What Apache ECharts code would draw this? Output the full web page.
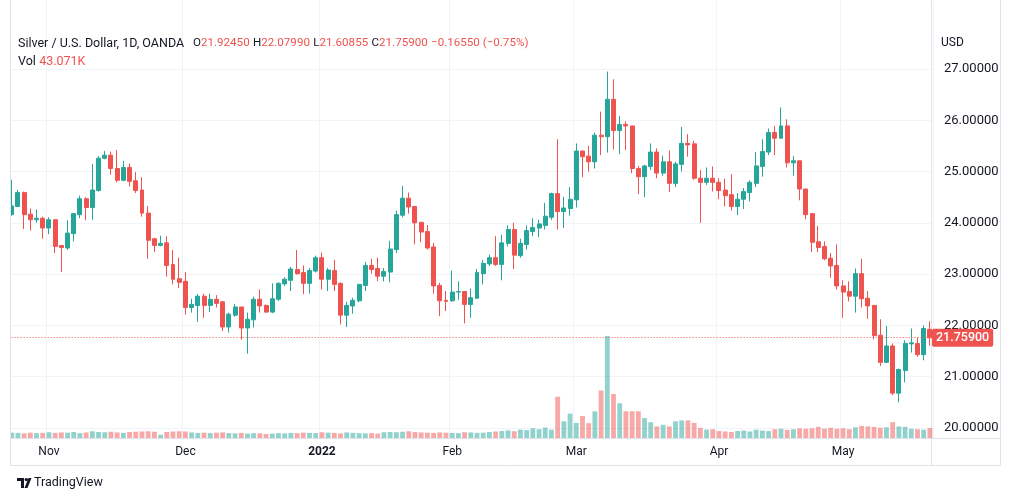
<!DOCTYPE html>
<html><head><meta charset="utf-8">
<script src="https://cdn.jsdelivr.net/npm/echarts@6/dist/echarts.min.js"></script>
<style>html,body{margin:0;padding:0;background:#fff}#c{width:1012px;height:501px}</style>
</head><body><div id="c"></div>
<script>
// ---- trading calendar (categories) ----
const startDay = '2021-10-22';
const endDay = '2022-05-20';
const holidays = ['2021-12-24', '2022-04-15'];
const monthNames = {'2021-11':'Nov','2021-12':'Dec','2022-01':'2022','2022-02':'Feb','2022-03':'Mar','2022-04':'Apr','2022-05':'May'};
const priceTicks = [20, 21, 22, 23, 24, 25, 26, 27];

// ---- OHLC values ----
const opens = [24.16,24.32,24.59,24.17,24.06,24.09,23.90,24.06,23.56,23.51,23.79,24.16,24.47,24.30,24.63,25.26,25.32,25.06,24.83,25.08,24.82,24.64,24.19,23.69,23.56,23.61,23.19,22.91,22.86,22.35,
22.39,22.57,22.39,22.51,22.46,21.97,22.20,22.36,21.95,22.11,22.51,22.39,22.26,22.51,22.81,22.88,23.09,23.03,22.82,23.06,23.32,22.90,23.07,22.82,22.20,22.38,22.48,22.78,23.17,23.11,
22.96,23.04,23.48,24.15,24.48,24.32,24.01,23.83,23.53,22.78,22.49,22.48,22.65,22.66,22.41,22.53,23.01,23.20,23.32,23.19,23.60,23.87,23.36,23.58,23.83,23.90,23.95,24.11,24.57,24.22,
24.28,24.45,25.40,25.30,25.19,25.71,25.68,26.41,25.80,25.92,25.89,25.06,24.90,25.10,25.38,24.97,25.19,24.77,25.14,25.55,25.54,24.87,24.79,24.87,24.79,24.64,24.55,24.32,24.46,24.59,
24.77,25.10,25.38,25.76,25.65,25.89,25.17,25.21,24.66,24.18,23.63,23.54,23.31,23.17,22.77,22.66,22.57,23.01,22.53,22.39,21.81,21.28,21.60,20.68,21.12,21.64,21.65,21.43,21.9245];
const highs = [24.84,24.64,24.61,24.28,24.26,24.12,24.11,24.07,23.56,24.05,24.18,24.53,24.50,25.15,25.30,25.40,25.39,25.42,25.21,25.16,24.99,24.89,24.33,23.71,23.75,23.74,23.47,23.32,23.04,22.52,
22.61,22.62,22.62,22.59,22.48,22.25,22.42,22.36,22.25,22.56,22.70,22.41,22.82,22.84,22.94,23.14,23.47,23.17,23.12,23.36,23.42,23.12,23.28,22.84,22.46,22.54,22.81,23.24,23.30,23.32,
23.12,23.65,24.24,24.72,24.59,24.32,24.01,23.96,23.61,22.83,22.67,23.07,22.86,22.67,22.72,23.10,23.28,23.38,23.74,23.77,23.95,24.00,23.69,23.95,24.09,24.06,24.39,24.59,25.63,24.51,
24.70,25.55,25.41,25.50,25.76,26.17,26.95,26.80,26.08,25.98,25.89,25.11,25.13,25.55,25.45,25.31,25.41,25.19,25.87,25.73,25.60,25.03,25.08,25.10,24.87,24.86,24.95,24.58,24.68,24.83,
25.38,25.63,25.84,25.89,26.25,26.02,25.30,25.21,24.66,24.18,23.94,23.64,23.41,23.58,22.88,22.86,23.11,23.30,22.67,22.39,22.12,21.99,21.65,21.16,21.71,21.94,21.76,22.00,22.0799];
const lows = [24.14,24.31,23.88,23.85,24.00,23.69,23.78,23.41,23.04,23.47,23.64,24.09,24.05,24.06,24.61,25.24,24.94,24.79,24.81,24.71,24.58,24.12,23.30,23.43,23.54,22.95,22.80,22.73,22.21,22.25,
22.07,22.15,22.26,22.35,21.89,21.86,22.17,21.72,21.45,21.96,22.25,22.24,22.24,22.48,22.77,22.67,22.99,22.61,22.62,23.03,22.70,22.67,22.67,22.02,21.97,22.23,22.45,22.67,23.01,22.86,
22.86,22.84,23.41,24.11,24.18,23.58,23.62,23.48,22.62,22.18,22.28,22.46,22.50,22.04,22.15,22.52,22.80,23.16,23.16,22.88,23.54,23.10,23.32,23.48,23.74,23.72,23.87,24.06,23.87,23.90,
24.14,24.30,24.89,25.00,25.06,25.32,25.37,25.43,25.34,25.42,24.97,24.56,24.50,25.03,24.87,24.92,24.60,24.70,25.00,25.29,24.84,24.00,24.74,24.61,24.46,24.32,24.24,24.15,24.27,24.42,
24.70,24.90,25.32,25.32,25.65,25.08,24.92,24.44,24.07,23.43,23.43,23.27,22.93,22.70,22.15,22.47,22.25,22.35,22.13,21.73,21.21,21.28,20.64,20.50,20.89,21.47,21.39,21.32,21.60855];
const closes = [24.33,24.59,24.16,24.06,24.09,23.90,24.06,23.54,23.52,23.80,24.18,24.47,24.30,24.64,25.26,25.32,25.06,24.83,25.08,24.81,24.63,24.19,23.66,23.56,23.60,23.17,22.90,22.84,22.35,22.41,
22.57,22.39,22.51,22.43,21.97,22.22,22.36,21.95,22.12,22.51,22.38,22.26,22.52,22.82,22.90,23.10,23.01,22.82,23.07,23.32,22.90,23.08,22.80,22.20,22.39,22.49,22.80,23.17,23.09,22.96,
23.05,23.49,24.16,24.48,24.31,24.00,23.82,23.51,22.77,22.48,22.47,22.65,22.66,22.41,22.54,23.03,23.21,23.32,23.19,23.61,23.87,23.37,23.60,23.85,23.91,23.98,24.13,24.57,24.22,24.29,
24.46,25.40,25.29,25.19,25.71,25.68,26.41,25.80,25.92,25.89,25.06,24.90,25.11,25.38,24.97,25.19,24.77,25.15,25.55,25.52,24.87,24.79,24.87,24.79,24.63,24.53,24.32,24.46,24.61,24.79,
25.11,25.39,25.76,25.65,25.89,25.17,25.21,24.66,24.16,23.62,23.52,23.30,23.16,22.77,22.65,22.57,23.01,22.52,22.38,21.80,21.28,21.60,20.68,21.14,21.65,21.66,21.43,21.94,21.759];
// tick volume in thousands
const volumes = [23,22,20,23,21,22,25,22,24,23,26,21,24,29,26,25,27,24,22,26,27,28,29,27,14,26,28,29,
28,24,22,23,21,23,24,21,20,22,19,21,20,17,19,21,20,22,21,23,22,21,25,
23,22,20,24,22,21,20,21,19,25,26,25,27,29,26,24,23,22,24,23,
22,21,25,24,22,23,26,28,30,33,29,36,34,42,38,45,36,178,72,105,
65,95,64,115,205,440,190,150,115,115,115,86,68,50,57,50,72,76,76,65,
44,36,38,30,28,26,30,32,28,36,32,30,38,40,35,38,42,40,42,48,
40,44,40,42,38,46,52,50,48,44,46,68,50,48,40,38,36,43.071];

// ---- build calendar ----
const dates = [];
for (let d = new Date(startDay + 'T00:00:00Z'); d <= new Date(endDay + 'T00:00:00Z'); d.setUTCDate(d.getUTCDate() + 1)) {
  const wd = d.getUTCDay();
  const s = d.toISOString().slice(0, 10);
  if (wd === 0 || wd === 6 || holidays.includes(s)) continue;
  dates.push(s);
}
const monthStart = new Set();
for (let i = 1; i < dates.length; i++) {
  const m = dates[i].slice(0, 7);
  if (monthNames[m] && dates[i - 1].slice(0, 7) !== m) monthStart.add(i);
}

const UP = '#26a69a', DOWN = '#ef5350';
const candleData = opens.map((o, i) => [o, closes[i], lows[i], highs[i]]);
const volData = volumes.map((v, i) => ({
  value: v,
  itemStyle: { color: closes[i] >= opens[i] ? 'rgba(38,166,154,0.5)' : 'rgba(239,83,80,0.5)' }
}));
const n = closes.length;
const lastClose = closes[n - 1];
const FONT = 'Roboto, sans-serif';
const TXT = '#131722';
const AX = '#e0e3eb';

const chart = echarts.init(document.getElementById('c'), null, { renderer: 'canvas' });
chart.setOption({
  animation: false,
  backgroundColor: '#ffffff',
  grid: { left: 8.6, right: 79, top: 1, bottom: 63, containLabel: false },
  xAxis: {
    type: 'category', data: dates, boundaryGap: true,
    axisLine: { show: false },
    axisTick: { show: false },
    axisLabel: {
      interval: (idx) => monthStart.has(idx),
      formatter: (v) => { const m = monthNames[v.slice(0, 7)]; return m === '2022' ? '{y|2022}' : m; },
      color: TXT, fontFamily: FONT, fontSize: 12, margin: 8,
      rich: { y: { fontWeight: 'bold', fontFamily: FONT, fontSize: 12, color: TXT } }
    },
    splitLine: { show: true, interval: (idx) => monthStart.has(idx), lineStyle: { color: '#f0f3fa', width: 1 } }
  },
  yAxis: [{
    type: 'value', position: 'right', scale: true,
    min: 20 - 10 / 51.29, max: 27 + 68 / 51.29,
    axisLine: { show: false }, axisTick: { show: false, customValues: priceTicks },
    axisLabel: { customValues: priceTicks, formatter: (v) => v.toFixed(5), color: TXT, fontFamily: FONT, fontSize: 13, margin: 11 },
    splitLine: { show: true, lineStyle: { color: '#f0f3fa', width: 1 } }
  }, {
    type: 'value', min: 0, max: Math.max(...volumes) * 437 / 102, show: false,
    splitLine: { show: false }
  }],
  series: [{
    type: 'bar', yAxisIndex: 1, data: volData, barWidth: '78%', silent: true, z: 1
  }, {
    type: 'candlestick', data: candleData, barWidth: '72%', z: 3,
    itemStyle: { color: UP, color0: DOWN, borderColor: UP, borderColor0: DOWN, borderWidth: 1 },
    markLine: {
      silent: true, symbol: ['none', 'none'],
      lineStyle: { color: DOWN, type: [1, 2], width: 1 },
      label: { position: 'end', distance: -1, formatter: lastClose.toFixed(5), backgroundColor: DOWN, color: '#fff',
        padding: [3, 4, 2, 4], fontFamily: FONT, fontSize: 12.5, fontWeight: 500, borderRadius: 2 },
      data: [{ yAxis: lastClose }]
    }
  }],
  graphic: [
    { type: 'line', shape: { x1: 10.5, y1: 0, x2: 10.5, y2: 465 }, style: { stroke: AX, lineWidth: 1 }, silent: true, z: 10 },
    { type: 'line', shape: { x1: 1000.5, y1: 0, x2: 1000.5, y2: 465 }, style: { stroke: AX, lineWidth: 1 }, silent: true },
    { type: 'line', shape: { x1: 931.5, y1: 0, x2: 931.5, y2: 465 }, style: { stroke: AX, lineWidth: 1 }, silent: true },
    { type: 'line', shape: { x1: 10, y1: 465.5, x2: 1001, y2: 465.5 }, style: { stroke: AX, lineWidth: 1 }, silent: true },
    { type: 'line', shape: { x1: 10, y1: 438.5, x2: 1001, y2: 438.5 }, style: { stroke: AX, lineWidth: 1 }, silent: true },
    { type: 'rect', shape: { x: 0, y: 0, width: 10, height: 501 }, style: { fill: '#fff' }, silent: true, z: 9 },
    { type: 'text', left: 18, top: 37, z: 20, style: { text: 'Silver / U.S. Dollar, 1D, OANDA', fill: TXT, font: '12.5px ' + FONT } },
    { type: 'text', left: 193, top: 37, z: 20, style: {
      text: '{k|O}{v|' + opens[n - 1].toFixed(5) + '} {k|H}{v|' + highs[n - 1].toFixed(5) + '} {k|L}{v|' + lows[n - 1].toFixed(5) + '} {k|C}{v|' + lastClose.toFixed(5) + '} {v|\u22120.16550 (\u22120.75%)}',
      rich: { k: { fill: TXT, font: '11.6px ' + FONT }, v: { fill: DOWN, font: '11.6px ' + FONT } } } },
    { type: 'text', left: 18, top: 55, z: 20, style: {
      text: '{k|Vol} {v|' + volumes[n - 1].toFixed(3) + 'K}',
      rich: { k: { fill: TXT, font: '12.5px ' + FONT }, v: { fill: DOWN, font: '12.5px ' + FONT } } } },
    { type: 'text', left: 941, top: 37, style: { text: 'USD', fill: TXT, font: '12px ' + FONT } },
    // TradingView logo mark
    { type: 'rect', shape: { x: 17, y: 478, width: 7, height: 3 }, style: { fill: TXT }, silent: true },
    { type: 'rect', shape: { x: 21, y: 478, width: 3, height: 10 }, style: { fill: TXT }, silent: true },
    { type: 'circle', shape: { cx: 26.3, cy: 479.6, r: 1.7 }, style: { fill: TXT }, silent: true },
    { type: 'polygon', shape: { points: [[28.5, 478], [31.5, 478], [27.5, 488], [24.5, 488]] }, style: { fill: TXT }, silent: true },
    { type: 'text', left: 34, top: 476, style: { text: 'TradingView', fill: TXT, font: '12.5px ' + FONT } }
  ]
});
</script></body></html>
